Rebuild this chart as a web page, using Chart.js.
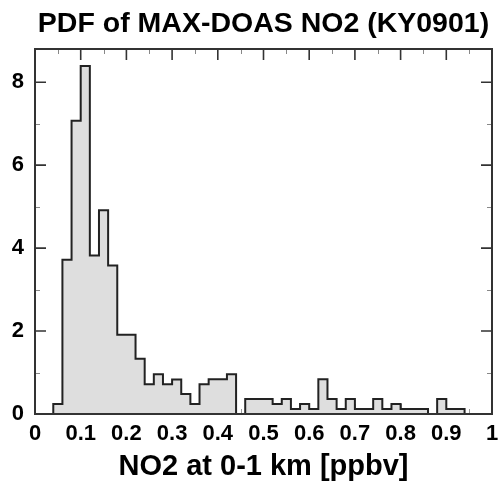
<!DOCTYPE html>
<html>
<head>
<meta charset="utf-8">
<script src="https://cdn.jsdelivr.net/npm/chart.js@4"></script>
<style>
  html, body { margin: 0; padding: 0; background: #fff; }
  #wrap { width: 499px; height: 488px; }
</style>
</head>
<body>
<div id="wrap"><canvas id="pdfChart"></canvas></div>
<script>
// bin edges (0.02 wide) and the PDF value of each bin
const binEdges = [0, 0.02, 0.04, 0.06, 0.08, 0.10, 0.12, 0.14, 0.16, 0.18,
  0.20, 0.22, 0.24, 0.26, 0.28, 0.30, 0.32, 0.34, 0.36, 0.38,
  0.40, 0.42, 0.44, 0.46, 0.48, 0.50, 0.52, 0.54, 0.56, 0.58,
  0.60, 0.62, 0.64, 0.66, 0.68, 0.70, 0.72, 0.74, 0.76, 0.78,
  0.80, 0.82, 0.84, 0.86, 0.88, 0.90, 0.92, 0.94, 0.96, 0.98, 1.00];
const pdfValues = [0, 0, 0.24, 3.72, 7.07, 8.39, 3.82, 4.91, 3.58, 1.91,
  1.91, 1.33, 0.72, 0.96, 0.72, 0.83, 0.48, 0.24, 0.72, 0.84,
  0.84, 0.96, 0, 0.36, 0.36, 0.36, 0.24, 0.36, 0.12, 0.24,
  0.12, 0.84, 0.36, 0.12, 0.36, 0.12, 0.12, 0.36, 0.12, 0.24,
  0.12, 0.12, 0.12, 0, 0.36, 0.12, 0.12, 0, 0, 0];

// tick marks
const xMajorTicks = [0, 0.1, 0.2, 0.3, 0.4, 0.5, 0.6, 0.7, 0.8, 0.9, 1];
const xMinorTicks = [0.05, 0.15, 0.25, 0.35, 0.45, 0.55, 0.65, 0.75, 0.85, 0.95];
const yMajorTicks = [0, 2, 4, 6, 8];
const yMinorTicks = [1, 3, 5, 7];
const yMax = 8.8;

const FONT = "'Liberation Sans', Arial, Helvetica, sans-serif";

// step points: each bin value held from its left edge, plus closing point at x=1
const stepPoints = pdfValues.map((v, i) => ({ x: binEdges[i], y: v }));
stepPoints.push({ x: binEdges[binEdges.length - 1], y: 0 });

// frame + inward tick marks like the original plot
const frameTicks = {
  id: 'frameTicks',
  beforeDatasetsDraw(chart) {
    // bottom ticks sit under the histogram fill
    const { ctx, chartArea: a, scales: { x } } = chart;
    ctx.save();
    ctx.strokeStyle = '#999';
    ctx.lineWidth = 1;
    ctx.beginPath();
    xMinorTicks.forEach(v => { const px = Math.round(x.getPixelForValue(v)) + 0.5; ctx.moveTo(px, a.bottom); ctx.lineTo(px, a.bottom - 5); });
    xMajorTicks.forEach(v => { const px = Math.round(x.getPixelForValue(v)) + 0.5; ctx.moveTo(px, a.bottom); ctx.lineTo(px, a.bottom - 10); });
    ctx.stroke();
    ctx.restore();
  },
  afterDatasetsDraw(chart) {
    const { ctx, chartArea: a, scales: { x, y } } = chart;
    ctx.save();
    // minor ticks
    ctx.strokeStyle = '#888';
    ctx.lineWidth = 1;
    ctx.beginPath();
    xMinorTicks.forEach(v => { const px = Math.round(x.getPixelForValue(v)) + 0.5; ctx.moveTo(px, a.top); ctx.lineTo(px, a.top + 5); });
    yMinorTicks.forEach(v => {
      const py = Math.round(y.getPixelForValue(v)) + 0.5;
      ctx.moveTo(a.left, py); ctx.lineTo(a.left + 5, py);
      ctx.moveTo(a.right, py); ctx.lineTo(a.right - 5, py);
    });
    ctx.stroke();
    // major ticks
    ctx.strokeStyle = '#333';
    ctx.lineWidth = 1.6;
    ctx.beginPath();
    xMajorTicks.forEach(v => { const px = x.getPixelForValue(v); ctx.moveTo(px, a.top); ctx.lineTo(px, a.top + 11); });
    yMajorTicks.forEach(v => {
      const py = y.getPixelForValue(v);
      ctx.moveTo(a.left, py); ctx.lineTo(a.left + 11, py);
      ctx.moveTo(a.right, py); ctx.lineTo(a.right - 11, py);
    });
    ctx.stroke();
    // frame
    ctx.lineWidth = 2;
    ctx.strokeRect(a.left, a.top, a.right - a.left, a.bottom - a.top);
    ctx.restore();
  }
};

new Chart(document.getElementById('pdfChart'), {
  type: 'line',
  data: {
    datasets: [{
      data: stepPoints,
      stepped: 'before',
      fill: 'origin',
      borderColor: '#222',
      backgroundColor: '#dedede',
      borderWidth: 2,
      pointRadius: 0,
      tension: 0
    }]
  },
  options: {
    responsive: true,
    maintainAspectRatio: false,
    animation: false,
    layout: { padding: { left: 0, right: 7, top: 0, bottom: 0 } },
    plugins: {
      legend: { display: false },
      tooltip: { enabled: false },
      title: {
        display: true,
        fullSize: false,
        text: 'PDF of MAX-DOAS NO2 (KY0901)',
        color: '#000',
        font: { family: FONT, size: 28.5, weight: 'bold' },
        padding: { top: 7, bottom: 7.8 }
      }
    },
    scales: {
      x: {
        type: 'linear',
        min: 0, max: 1,
        grid: { display: false, drawTicks: false },
        border: { display: false },
        afterBuildTicks: s => { s.ticks = xMajorTicks.map(v => ({ value: v })); },
        afterFit: s => { s.height = 74; s.paddingLeft = 0; s.paddingRight = 0; },
        ticks: {
          color: '#000',
          padding: 7,
          maxRotation: 0,
          autoSkip: false,
          font: { family: FONT, size: 22, weight: 'bold' },
          callback: v => String(v)
        },
        title: {
          display: true,
          text: 'NO2 at 0-1 km [ppbv]',
          color: '#000',
          font: { family: FONT, size: 29, weight: 'bold' },
          padding: { top: 0, bottom: 4 }
        }
      },
      y: {
        min: 0, max: yMax,
        grid: { display: false, drawTicks: false },
        border: { display: false },
        afterBuildTicks: s => { s.ticks = yMajorTicks.map(v => ({ value: v })); },
        afterFit: s => { s.width = 35; s.paddingTop = 0; s.paddingBottom = 0; },
        ticks: {
          color: '#000',
          padding: 11,
          font: { family: FONT, size: 22, weight: 'bold' }
        }
      }
    }
  },
  plugins: [frameTicks]
});
</script>
</body>
</html>
